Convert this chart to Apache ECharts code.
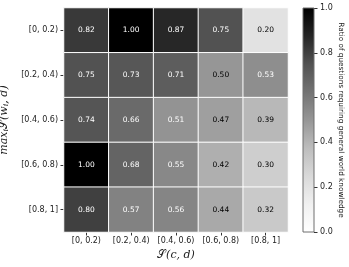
<!DOCTYPE html>
<html>
<head>
<meta charset="utf-8">
<script src="https://cdn.jsdelivr.net/npm/echarts@6/dist/echarts.min.js"></script>
<style>html,body{margin:0;padding:0;background:#fff}#c{width:349px;height:267px}</style>
</head>
<body>
<div id="c"></div>
<script>
var xCategories = ['[0, 0.2)', '[0.2, 0.4)', '[0.4, 0.6)', '[0.6, 0.8)', '[0.8, 1]'];
var yCategories = ['[0, 0.2)', '[0.2, 0.4)', '[0.4, 0.6)', '[0.6, 0.8)', '[0.8, 1]'];
var row0 = [0.82, 1.00, 0.87, 0.75, 0.20];
var row1 = [0.75, 0.73, 0.71, 0.50, 0.53];
var row2 = [0.74, 0.66, 0.51, 0.47, 0.39];
var row3 = [1.00, 0.68, 0.55, 0.42, 0.30];
var row4 = [0.80, 0.57, 0.56, 0.44, 0.32];
var colorbarTicks = [0, 0.2, 0.4, 0.6, 0.8, 1.0];
var colorbarTitle = 'Ratio of questions requiring general world knowledge';

var rows = [row0, row1, row2, row3, row4];
var greys = ['#ffffff','#f0f0f0','#d9d9d9','#bdbdbd','#969696','#737373','#525252','#252525','#000000'];

var data = [];
rows.forEach(function (r, yi) {
  r.forEach(function (v, xi) {
    data.push({ value: [xi, yi, v], label: { color: v > 0.5 ? '#ffffff' : '#000000' } });
  });
});

var chart = echarts.init(document.getElementById('c'), null, { renderer: 'canvas' });
var font = 'DejaVu Sans';
chart.setOption({
  animation: false,
  textStyle: { fontFamily: font },
  grid: [
    { left: 64, top: 8, width: 224, height: 224, outerBoundsMode: 'none', containLabel: false },
    { left: 303, top: 8, width: 11, height: 224, show: true, borderColor: '#6e6e6e', borderWidth: 1, z: 5, outerBoundsMode: 'none', containLabel: false }
  ],
  xAxis: [
    {
      gridIndex: 0, type: 'category', data: xCategories,
      axisLine: { show: false },
      axisTick: { show: true, alignWithLabel: true, length: 3.5, lineStyle: { color: '#333' } },
      axisLabel: { fontSize: 8, color: '#222', margin: 5, fontFamily: font, interval: 0, hideOverlap: false },
      splitArea: { show: false },
      name: '{cal|𝒮}{it|(c, d)}', nameLocation: 'middle', nameGap: 15,
      nameTextStyle: {
        rich: {
          cal: { fontFamily: 'DejaVu Serif', fontSize: 11, color: '#222' },
          it: { fontFamily: 'DejaVu Serif', fontStyle: 'italic', fontSize: 11, color: '#222' }
        }
      }
    },
    { gridIndex: 1, type: 'category', data: ['c'], show: false }
  ],
  yAxis: [
    {
      gridIndex: 0, type: 'category', data: yCategories, inverse: true,
      axisLine: { show: false },
      axisTick: { show: true, alignWithLabel: true, length: 3.5, lineStyle: { color: '#333' } },
      axisLabel: { fontSize: 8, color: '#222', margin: 6, fontFamily: font, interval: 0 },
      name: '{it|max}{sub|i}{cal|𝒮}{it|(w}{sub|i}{it|, d)}', nameLocation: 'middle', nameGap: 42, nameRotate: 90,
      nameTextStyle: {
        rich: {
          cal: { fontFamily: 'DejaVu Serif', fontSize: 11, color: '#222' },
          it: { fontFamily: 'DejaVu Serif', fontStyle: 'italic', fontSize: 11, color: '#222' },
          sub: { fontFamily: 'DejaVu Serif', fontStyle: 'italic', fontSize: 8, color: '#222', verticalAlign: 'bottom', padding: [5, 0, 0, 0] }
        }
      }
    },
    {
      gridIndex: 1, type: 'value', min: 0, max: 1, interval: 0.2, position: 'right',
      axisLine: { show: false },
      splitLine: { show: false },
      axisTick: { show: true, length: 3.5, lineStyle: { color: '#333' } },
      axisLabel: { fontSize: 8, color: '#222', margin: 6, fontFamily: font, formatter: function (v) { return v.toFixed(1); } },
      name: colorbarTitle, nameLocation: 'middle', nameGap: 23, nameRotate: -90,
      nameTextStyle: { fontSize: 7.3, color: '#222', fontFamily: font }
    }
  ],
  visualMap: {
    show: false, type: 'continuous', min: 0, max: 1, seriesIndex: 0,
    inRange: { color: greys }
  },
  series: [
    {
      type: 'heatmap', xAxisIndex: 0, yAxisIndex: 0, data: data,
      itemStyle: { borderColor: '#ffffff', borderWidth: 1 },
      label: { show: true, fontSize: 7.5, fontFamily: font, formatter: function (p) { return p.value[2].toFixed(2); } },
      emphasis: { disabled: true }
    },
    {
      type: 'bar', xAxisIndex: 1, yAxisIndex: 1, data: [colorbarTicks[colorbarTicks.length - 1]],
      barWidth: '100%', silent: true,
      itemStyle: { color: new echarts.graphic.LinearGradient(0, 1, 0, 0, greys.map(function (c, i) { return { offset: i / (greys.length - 1), color: c }; })) }
    }
  ]
});
</script>
</body>
</html>
